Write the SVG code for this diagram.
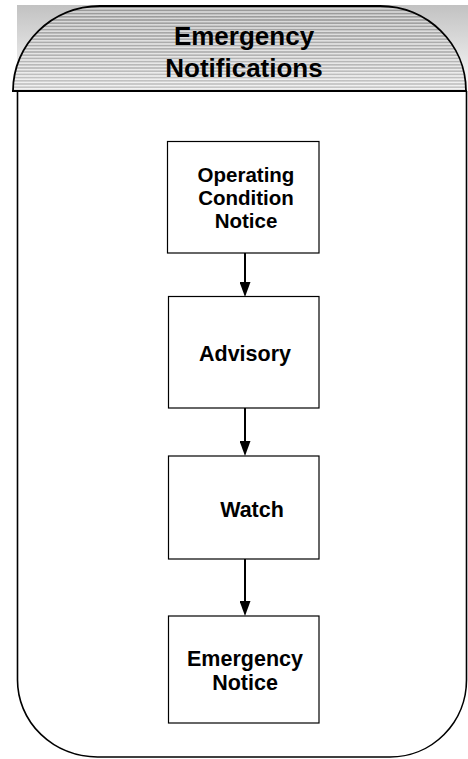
<svg xmlns="http://www.w3.org/2000/svg" width="468" height="759" viewBox="0 0 468 759">
<style>
.box{fill:#fff;stroke:#000;stroke-width:1.2}
.lbl{font-family:"Liberation Sans",Arial,sans-serif;font-weight:bold;font-size:21.5px;fill:#000;text-anchor:middle}
.lbl.tight{font-size:20.5px}
.ttl{font-family:"Liberation Sans",Arial,sans-serif;font-weight:bold;font-size:26px;fill:#000;text-anchor:middle}
.conn{stroke:#000;stroke-width:2;fill:none}
</style>
<defs>
<linearGradient id="bg" x1="0" y1="0" x2="0" y2="1">
<stop offset="0" stop-color="#c2c2c2"/>
<stop offset="1" stop-color="#fbfbfb"/>
</linearGradient>
<linearGradient id="hg" x1="0" y1="0" x2="0" y2="1">
<stop offset="0" stop-color="#b0b0b0"/>
<stop offset="1" stop-color="#e8e8e8"/>
</linearGradient>
<pattern id="stripes" patternUnits="userSpaceOnUse" width="20" height="3.2">
<rect x="0" y="0" width="20" height="1.6" fill="#000" fill-opacity="0.14"/>
<rect x="0" y="1.6" width="20" height="1.6" fill="#fff" fill-opacity="0.45"/>
</pattern>
<marker id="arr" viewBox="0 0 15 11" markerWidth="15" markerHeight="11" refX="4" refY="5.5" orient="auto" markerUnits="userSpaceOnUse">
<path d="M0,0 L15,5.5 L0,11 Z" fill="#000"/>
</marker>
</defs>
<g id="container">
<rect x="17" y="5" width="451" height="86" fill="url(#bg)"/>
<path d="M13,91 C13,44 52,6 100,6 L380,6 C427.5,6 466,44 466,91 Z" fill="url(#hg)"/>
<path d="M13,91 C13,44 52,6 100,6 L380,6 C427.5,6 466,44 466,91 Z" fill="url(#stripes)" stroke="#000" stroke-width="1.8"/>
<line x1="12" y1="91" x2="467" y2="91" stroke="#000" stroke-width="2"/>
<path d="M17.5,91 V680 A80,77 0 0 0 97.5,757 H390 A76.5,77 0 0 0 466.5,680 V91" fill="none" stroke="#000" stroke-width="1.6"/>
<text class="ttl" x="244" y="45">Emergency</text>
<text class="ttl" x="244" y="76.5">Notifications</text>
</g>
<g id="connectors">
<line class="conn" x1="245" y1="253" x2="245" y2="286" marker-end="url(#arr)"/>
<line class="conn" x1="245" y1="408" x2="245" y2="445" marker-end="url(#arr)"/>
<line class="conn" x1="245" y1="559" x2="245" y2="605" marker-end="url(#arr)"/>
</g>
<g id="node-operating">
<rect class="box" x="167.5" y="141.5" width="151.5" height="111.5"/>
<text class="lbl tight" x="246" y="181.5">Operating</text>
<text class="lbl tight" x="246" y="204.5">Condition</text>
<text class="lbl tight" x="246" y="227.5">Notice</text>
</g>
<g id="node-advisory">
<rect class="box" x="168.5" y="296.5" width="150.5" height="111.5"/>
<text class="lbl" x="245" y="361">Advisory</text>
</g>
<g id="node-watch">
<rect class="box" x="168.5" y="456" width="150.5" height="103"/>
<text class="lbl" x="252" y="517">Watch</text>
</g>
<g id="node-emergency">
<rect class="box" x="168.5" y="616" width="150.5" height="107"/>
<text class="lbl" x="245" y="665.5">Emergency</text>
<text class="lbl" x="245" y="690">Notice</text>
</g>
</svg>
